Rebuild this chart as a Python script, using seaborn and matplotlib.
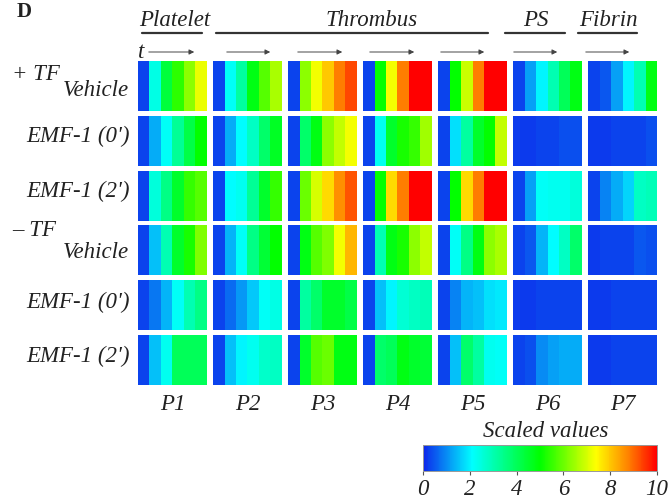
import numpy as np
import matplotlib
matplotlib.use("Agg")
import matplotlib.pyplot as plt
import seaborn as sns
from matplotlib.colors import LinearSegmentedColormap

sns.set_theme(style="white")
plt.rcParams['font.family'] = ['Liberation Serif', 'DejaVu Serif']

# ---- data: scaled values, 7 parameters (P1..P7) x 6 time points per condition ----
panels = ["P1", "P2", "P3", "P4", "P5", "P6", "P7"]
row_labels = ["+TF Vehicle", "EMF-1 (0')", "EMF-1 (2')", "-TF Vehicle", "EMF-1 (0')", "EMF-1 (2')"]

plus_tf_vehicle = [
    [0.3, 2.4, 4.3, 5.4, 6.3, 7.2],
    [0.3, 2.2, 3.2, 4.8, 5.8, 6.6],
    [0.3, 6.3, 7.3, 8.0, 8.8, 9.3],
    [0.3, 5.0, 7.3, 8.8, 10.0, 10.0],
    [0.3, 5.0, 6.9, 8.8, 10.0, 10.0],
    [0.3, 1.2, 2.0, 3.0, 4.0, 4.8],
    [0.3, 0.5, 1.2, 2.0, 3.0, 4.8],
]
plus_tf_emf_0 = [
    [0.3, 1.3, 2.2, 3.3, 4.2, 5.0],
    [0.3, 1.3, 2.1, 2.8, 3.8, 4.6],
    [0.3, 3.8, 4.8, 6.3, 6.8, 7.3],
    [0.3, 2.3, 4.5, 5.2, 5.5, 6.5],
    [0.3, 1.8, 3.2, 4.5, 5.0, 6.8],
    [0.2, 0.2, 0.3, 0.3, 0.4, 0.4],
    [0.2, 0.2, 0.3, 0.3, 0.3, 0.4],
]
plus_tf_emf_2 = [
    [0.3, 2.5, 3.5, 4.5, 5.5, 5.8],
    [0.3, 2.1, 2.3, 3.3, 4.5, 5.5],
    [0.3, 6.0, 7.0, 7.8, 8.6, 9.2],
    [0.3, 5.0, 7.8, 8.8, 10.0, 10.0],
    [0.3, 5.0, 7.8, 8.8, 10.0, 10.0],
    [0.3, 1.2, 2.2, 2.3, 2.3, 2.5],
    [0.3, 0.9, 1.3, 1.7, 2.8, 2.9],
]
minus_tf_vehicle = [
    [0.3, 1.5, 3.0, 4.5, 5.2, 6.2],
    [0.3, 1.4, 2.2, 3.5, 4.4, 5.0],
    [0.3, 4.8, 5.8, 6.2, 7.3, 8.2],
    [0.3, 3.0, 4.8, 5.2, 6.3, 6.8],
    [0.3, 2.2, 3.5, 4.8, 6.3, 6.6],
    [0.3, 0.5, 1.4, 2.1, 2.8, 3.8],
    [0.2, 0.3, 0.3, 0.3, 0.5, 0.4],
]
minus_tf_emf_0 = [
    [0.3, 0.8, 1.4, 2.2, 3.0, 3.5],
    [0.3, 0.7, 1.1, 1.6, 2.2, 2.4],
    [0.3, 3.2, 3.8, 4.5, 4.5, 4.2],
    [0.3, 1.5, 2.0, 2.6, 2.8, 2.9],
    [0.3, 0.9, 1.4, 1.5, 1.8, 1.9],
    [0.2, 0.2, 0.3, 0.3, 0.3, 0.3],
    [0.2, 0.2, 0.3, 0.3, 0.3, 0.3],
]
minus_tf_emf_2 = [
    [0.3, 1.5, 2.3, 4.0, 4.0, 4.0],
    [0.3, 1.5, 2.0, 2.3, 2.7, 2.8],
    [0.3, 4.5, 5.8, 6.0, 4.8, 4.8],
    [0.3, 3.8, 4.0, 4.8, 4.5, 4.4],
    [0.3, 1.5, 3.8, 3.2, 2.3, 2.2],
    [0.3, 0.4, 1.0, 1.2, 1.3, 1.3],
    [0.2, 0.2, 0.3, 0.3, 0.3, 0.3],
]
rows = [plus_tf_vehicle, plus_tf_emf_0, plus_tf_emf_2,
        minus_tf_vehicle, minus_tf_emf_0, minus_tf_emf_2]
cbar_ticks = [0, 2, 4, 6, 8, 10]

# ---- styling ----
W, H = 670, 502
fig = plt.figure(figsize=(W / 100, H / 100), dpi=100)
fx = lambda px: px / W
fy = lambda py: 1 - py / H

cmap = LinearSegmentedColormap.from_list("jetlike", [
    (0.00, (0.05, 0.15, 0.92)),
    (0.21, (0.00, 1.00, 1.00)),
    (0.50, (0.00, 1.00, 0.00)),
    (0.74, (1.00, 1.00, 0.00)),
    (0.88, (1.00, 0.50, 0.00)),
    (1.00, (1.00, 0.00, 0.00)),
])

TXT = "#222222"
FS = 16.5

gs = fig.add_gridspec(6, 7, left=fx(138), right=fx(657), top=fy(62), bottom=fy(386),
                      wspace=0.087, hspace=0.09)
cax = fig.add_axes([fx(423), fy(472), fx(657) - fx(423), (472 - 446) / H])

for r, rowdata in enumerate(rows):
    for p, vals in enumerate(rowdata):
        ax = fig.add_subplot(gs[r, p])
        first = (r == 0 and p == 0)
        sns.heatmap(np.array(vals)[None, :], ax=ax, cmap=cmap, vmin=0, vmax=10,
                    cbar=first, cbar_ax=cax if first else None,
                    cbar_kws={"orientation": "horizontal", "ticks": cbar_ticks} if first else None,
                    xticklabels=False, yticklabels=False)
        ax.set_xlabel("")
        ax.set_ylabel("")

# colorbar styling
cax.tick_params(axis="x", length=3, width=0.8, color="#555555", labelsize=FS,
                labelcolor=TXT, pad=2, bottom=True)
for t in cax.get_xticklabels():
    t.set_fontstyle("italic")
for s in cax.spines.values():
    s.set_visible(True)
    s.set_color("#999999")
    s.set_linewidth(0.6)
fig.text(fx(546), fy(432), "Scaled values", ha="center", va="center",
         fontsize=FS, style="italic", color=TXT)

# panel labels
for p, name in enumerate(panels):
    cx = 138 + p * 75 + 34.5
    fig.text(fx(cx), fy(405), name, ha="center", va="center",
             fontsize=FS, style="italic", color=TXT)

# row labels
row_centers = [86, 140, 195, 250, 306, 360]
fig.text(fx(12), fy(74), "+ TF", ha="left", va="center", fontsize=FS, style="italic", color=TXT)
fig.text(fx(129), fy(91), "Vehicle", ha="right", va="center", fontsize=FS, style="italic", color=TXT)
fig.text(fx(12), fy(230), "\u2013 TF", ha="left", va="center", fontsize=FS, style="italic", color=TXT)
fig.text(fx(129), fy(252), "Vehicle", ha="right", va="center", fontsize=FS, style="italic", color=TXT)
for r in [1, 2, 4, 5]:
    fig.text(fx(130), fy(row_centers[r] - 4), row_labels[r], ha="right", va="center",
             fontsize=FS, style="italic", color=TXT)

# header groups
groups = [("Platelet", 175, 142, 202), ("Thrombus", 372, 216, 488),
          ("PS", 536, 505, 565), ("Fibrin", 608, 578, 637)]
for name, cx, x0, x1 in groups:
    fig.text(fx(cx), fy(21), name, ha="center", va="center",
             fontsize=FS, style="italic", color=TXT)
    fig.add_artist(plt.Line2D([fx(x0), fx(x1)], [fy(34), fy(34)],
                              color="#333333", lw=1.6, transform=fig.transFigure))

# time arrows
arrows = [(146, 197), (224, 273), (295, 345), (367, 417), (438, 487), (511, 560), (583, 632)]
for x0, x1 in arrows:
    fig.add_artist(matplotlib.patches.FancyArrowPatch(
        (fx(x0), fy(53)), (fx(x1), fy(53)), transform=fig.transFigure,
        arrowstyle="-|>,head_length=3,head_width=1.5", color="#444444", lw=0.7))
fig.text(fx(141), fy(52), "t", ha="center", va="center", fontsize=FS, style="italic", color=TXT)

fig.text(fx(17), fy(2), "D", ha="left", va="top", fontsize=15, fontweight="bold", color=TXT)

fig.savefig("out.png", dpi=100, facecolor="white")
